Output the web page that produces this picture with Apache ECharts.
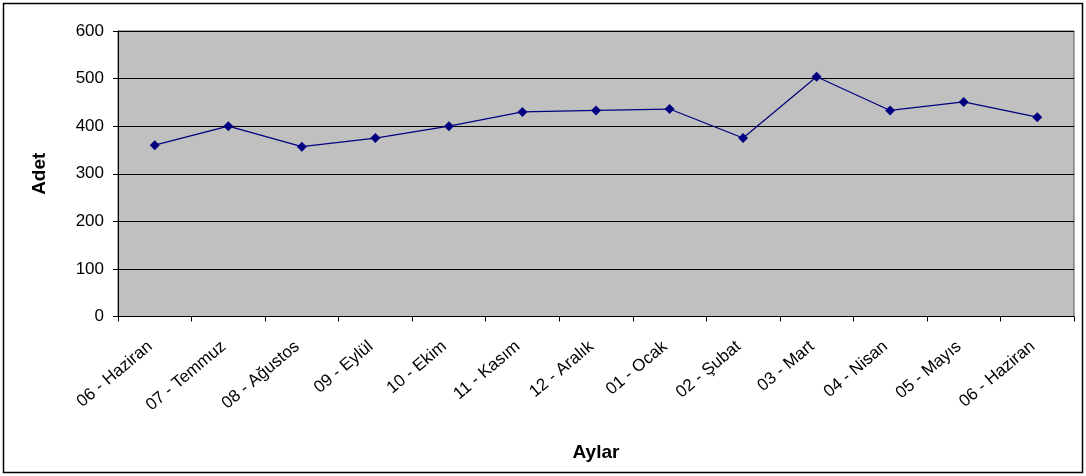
<!DOCTYPE html>
<html><head><meta charset="utf-8">
<script src="https://cdn.jsdelivr.net/npm/echarts@6/dist/echarts.min.js"></script>
<style>html,body{margin:0;padding:0;background:#fff}#c{width:1086px;height:476px}</style>
</head><body><div id="c"></div>
<script>
const categories = ['06 - Haziran','07 - Temmuz','08 - Ağustos','09 - Eylül','10 - Ekim','11 - Kasım','12 - Aralık','01 - Ocak','02 - Şubat','03 - Mart','04 - Nisan','05 - Mayıs','06 - Haziran'];
const values = [360, 400, 357, 375, 400, 430, 433, 436, 375, 504, 433, 451, 419];
const yTicks = [0, 100, 200, 300, 400, 500, 600];

const chart = echarts.init(document.getElementById('c'), null, {renderer: 'canvas'});
chart.setOption({
  backgroundColor: '#ffffff',
  animation: false,
  graphic: [{type: 'rect', shape: {x: 3.5, y: 3.5, width: 1079, height: 469}, style: {fill: 'none', stroke: '#000', lineWidth: 1.5}, z: 100}],
  grid: {left: 118, top: 31, width: 956, height: 285.5, show: true, backgroundColor: '#C0C0C0', borderColor: '#555', borderWidth: 1},
  xAxis: {
    type: 'category', data: categories, boundaryGap: true,
    name: 'Aylar', nameLocation: 'middle', nameGap: 127,
    nameTextStyle: {fontFamily: 'Liberation Sans, Arial', fontWeight: 'bold', fontSize: 19, color: '#000'},
    axisLine: {lineStyle: {color: '#000', width: 1}},
    axisTick: {show: true, length: 5, alignWithLabel: false, lineStyle: {color: '#000'}},
    axisLabel: {rotate: 40, fontFamily: 'Liberation Sans, Arial', fontSize: 17, color: '#000', margin: 24, padding: [0, 6, 0, 0], interval: 0}
  },
  yAxis: {
    type: 'value', min: 0, max: 600, interval: 100,
    name: 'Adet', nameLocation: 'middle', nameGap: 69,
    nameTextStyle: {fontFamily: 'Liberation Sans, Arial', fontWeight: 'bold', fontSize: 19, color: '#000'},
    axisLine: {show: true, lineStyle: {color: '#000', width: 1}},
    axisTick: {show: true, length: 5, lineStyle: {color: '#000'}},
    axisLabel: {fontFamily: 'Liberation Sans, Arial', fontSize: 17, color: '#000', margin: 14,
      formatter: v => yTicks.includes(v) ? String(v) : ''},
    splitLine: {show: true, lineStyle: {color: '#000', width: 1}}
  },
  series: [{
    type: 'line', data: values, symbol: 'diamond', symbolSize: 10,
    lineStyle: {color: '#000080', width: 1.2},
    itemStyle: {color: '#000080'}
  }]
});
</script></body></html>
